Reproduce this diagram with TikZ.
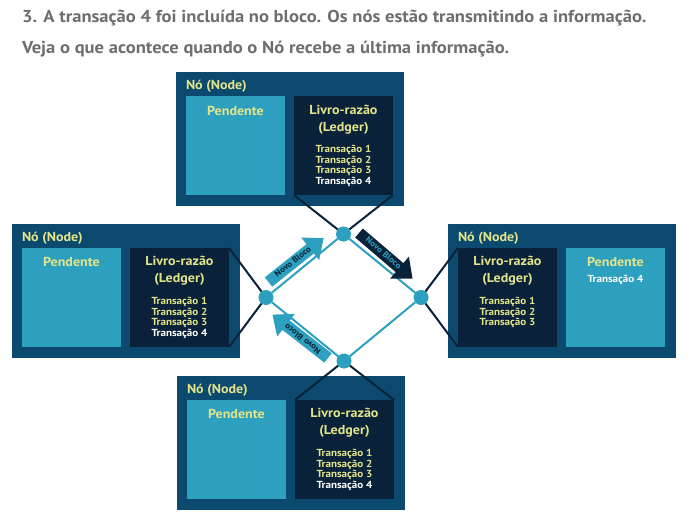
\documentclass[tikz,border=0pt]{standalone}
\usepackage{fontspec}
\setmainfont{PT Sans}[FakeStretch=1.08]
\usetikzlibrary{shapes.arrows}
\definecolor{nodeblue}{HTML}{0B4A6E}
\definecolor{pendcyan}{HTML}{2CA0BE}
\definecolor{ledgernavy}{HTML}{0A2239}
\definecolor{txtyellow}{HTML}{E3E48A}
\definecolor{titlegray}{HTML}{6D6E71}

\begin{document}
\begin{tikzpicture}[x=1pt, y=-1pt,
  every node/.style={inner sep=0pt, outer sep=0pt},
  outerbox/.style={fill=nodeblue, minimum width=228pt, minimum height=134pt},
  pendbox/.style={fill=pendcyan, minimum size=99pt},
  ledgerbox/.style={fill=ledgernavy, minimum size=99pt},
  boxlabel/.style={anchor=west, text=txtyellow, font=\bfseries\fontsize{13}{15}\selectfont},
  boxhead/.style={text=txtyellow, align=center, font=\bfseries\fontsize{13}{17}\selectfont},
  txlist/.style={align=center, font=\bfseries\fontsize{10.2}{10.7}\selectfont},
  hub/.style={circle, fill=pendcyan, minimum size=15pt},
  netline/.style={pendcyan, line width=2pt},
  tieline/.style={ledgernavy, line width=2pt},
  newblock/.style={single arrow, anchor=tail, single arrow head extend=8.5pt,
    single arrow tip angle=80, single arrow head indent=0pt,
    inner xsep=4.5pt, inner ysep=2.2pt, text width=54pt, align=center,
    text height=5.5pt, text depth=1.5pt, font=\bfseries\fontsize{8.3}{9}\selectfont}]
\useasboundingbox (0,0) rectangle (691,525);

% title
\node[anchor=west, text=titlegray, font=\bfseries\fontsize{17.2}{20}\selectfont] (title1) at (22,18)
  {3. A transação 4 foi incluída no bloco. Os nós estão transmitindo a informação.};
\node[anchor=west, text=titlegray, font=\bfseries\fontsize{17.2}{20}\selectfont] (title2) at (22,49)
  {Veja o que acontece quando o Nó recebe a última informação.};

% top node
\node[outerbox] (tnode) at (290,139) {};
\node[pendbox] (tpend) at (235.5,145.5) {};
\node[ledgerbox] (tled) at (343.5,145.5) {};
\node[boxlabel] (tlab) at (186,86) {Nó (Node)};
\node[boxhead] (tpendtxt) at (235.5,111) {Pendente};
\node[boxhead] (tledtxt) at (343.5,120) {Livro-razão\\(Ledger)};
\node[txlist] (ttx) at (343.5,166) {\textcolor{txtyellow}{Transação 1}\\\textcolor{txtyellow}{Transação 2}\\\textcolor{txtyellow}{Transação 3}\\\textcolor{white}{Transação 4}};

% left node
\node[outerbox] (lnode) at (126,291) {};
\node[pendbox] (lpend) at (71.5,297.5) {};
\node[ledgerbox] (lled) at (179.5,297.5) {};
\node[boxlabel] (llab) at (22,238) {Nó (Node)};
\node[boxhead] (lpendtxt) at (71.5,262) {Pendente};
\node[boxhead] (lledtxt) at (179.5,271) {Livro-razão\\(Ledger)};
\node[txlist] (ltx) at (179.5,318) {\textcolor{txtyellow}{Transação 1}\\\textcolor{txtyellow}{Transação 2}\\\textcolor{txtyellow}{Transação 3}\\\textcolor{white}{Transação 4}};

% right node
\node[outerbox] (rnode) at (562,291) {};
\node[ledgerbox] (rled) at (507.5,297.5) {};
\node[pendbox] (rpend) at (615.5,297.5) {};
\node[boxlabel] (rlab) at (458,238) {Nó (Node)};
\node[boxhead] (rpendtxt) at (615.5,262) {Pendente};
\node[txlist, text=white] (rpendtx) at (615.5,280) {Transação 4};
\node[boxhead] (rledtxt) at (507.5,271) {Livro-razão\\(Ledger)};
\node[txlist] (rtx) at (507.5,312.5) {\textcolor{txtyellow}{Transação 1}\\\textcolor{txtyellow}{Transação 2}\\\textcolor{txtyellow}{Transação 3}};

% bottom node
\node[outerbox] (bnode) at (291,443) {};
\node[pendbox] (bpend) at (236.5,449.5) {};
\node[ledgerbox] (bled) at (344.5,449.5) {};
\node[boxlabel] (blab) at (187,390) {Nó (Node)};
\node[boxhead] (bpendtxt) at (236.5,414) {Pendente};
\node[boxhead] (bledtxt) at (344.5,423) {Livro-razão\\(Ledger)};
\node[txlist] (btx) at (344.5,470) {\textcolor{txtyellow}{Transação 1}\\\textcolor{txtyellow}{Transação 2}\\\textcolor{txtyellow}{Transação 3}\\\textcolor{white}{Transação 4}};

% network
\node[hub] (ht) at (343.5,234) {};
\node[hub] (hl) at (266,297.5) {};
\node[hub] (hr) at (421,297.5) {};
\node[hub] (hb) at (344,361) {};

\draw[tieline] (tled.south west) -- (ht) -- (tled.south east);
\draw[tieline] (lled.north east) -- (hl) -- (lled.south east);
\draw[tieline] (rled.north west) -- (hr) -- (rled.south west);
\draw[tieline] (bled.north west) -- (hb) -- (bled.north east);
\draw[netline] (hl) -- (ht);
\draw[netline] (ht) -- (hr);
\draw[netline] (hr) -- (hb);
\draw[netline] (hb) -- (hl);

% arrows
\node[newblock, fill=pendcyan, text=ledgernavy, rotate=38.5] (a1) at (268.5,282) {Novo Bloco};
\node[newblock, fill=ledgernavy, text=pendcyan, rotate=-40.5] (a2) at (359,233) {Novo Bloco};
\node[newblock, fill=pendcyan, text=ledgernavy, rotate=142] (a3) at (328,358) {Novo Bloco};
\end{tikzpicture}
\end{document}
